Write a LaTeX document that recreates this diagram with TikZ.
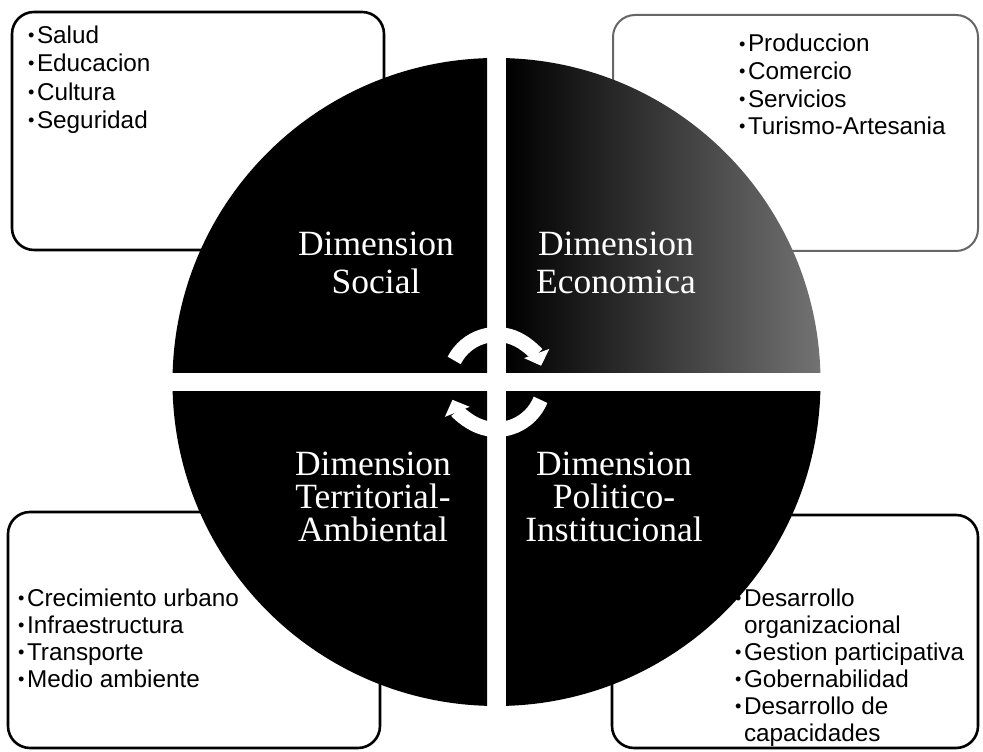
\documentclass[tikz,border=0pt]{standalone}
\usepackage{fontspec}
\setmainfont{Liberation Serif}
\newfontfamily\boxfont{Liberation Sans}
\usetikzlibrary{arrows.meta}

\newcommand\bul{\raisebox{.08em}{\scalebox{.75}{\textbullet}}\hspace{.1em}}
\newcommand\nobul{\phantom{\bul}}

\tikzset{
  frame/.style={draw, line width=2.6pt, rounded corners=22pt},
  item/.style={anchor=base west, inner sep=0pt, font=\boxfont\fontsize{24.3}{27}\selectfont},
  dimlabel/.style={align=center, inner sep=0pt, text=white, font=\fontsize{35.5}{38}\selectfont},
  dimlabel3/.style={dimlabel, font=\fontsize{35.5}{33}\selectfont},
  cyclearrow/.style={white, line width=15pt, -{Triangle[length=13pt, width=26pt]}}
}

\begin{document}
\begin{tikzpicture}[x=1pt, y=1pt]
    \path[use as bounding box, fill=white] (0,0) rectangle (983,752);

    % boxes behind the circle
    \draw[frame] (12,502) rectangle (384,740);
    \draw[frame, line width=2pt, black!60] (613,501) rectangle (978,737);
    \draw[frame] (8,4) rectangle (380,240);
    \draw[frame] (612,4) rectangle (978,237);

    \foreach \t [count=\i from 0] in {Salud, Educacion, Cultura, Seguridad} {
        \node[item] (soc\i) at (28, 708.5-28.3*\i) {\bul\t};
    }
    \foreach \t [count=\i from 0] in {Produccion, Comercio, Servicios, Turismo-Artesania} {
        \node[item] (eco\i) at (739, 700-27.6*\i) {\bul\t};
    }
    \foreach \t [count=\i from 0] in {Crecimiento urbano, Infraestructura, Transporte, Medio ambiente} {
        \node[item] (ter\i) at (18, 145.5-27*\i) {\bul\t};
    }
    \foreach \b/\t [count=\i from 0] in {\bul/Desarrollo, \nobul/organizacional, \bul/Gestion participativa,
                                          \bul/Gobernabilidad, \bul/Desarrollo de, \nobul/capacidades} {
        \node[item] (pol\i) at (735, 145.5-27*\i) {\b\t};
    }

    % the four quarters
    \coordinate (hub) at (496.5,370);
    \foreach \sx/\sy in {-1/1, -1/-1, 1/-1} {
        \begin{scope}
            \clip (496.5+\sx*9.5, 370+\sy*9.5) rectangle (496.5+\sx*400, 370+\sy*400);
            \fill (hub) circle (324);
        \end{scope}
    }
    \begin{scope}
        \clip (hub) circle (324);
        \shade[left color=black, middle color=black!92, right color=black!55] (506,379.5) rectangle (821,694);
    \end{scope}

    \node[dimlabel] (social) at (376,489) {Dimension\\Social};
    \node[dimlabel] (economica) at (616,489) {Dimension\\Economica};
    \node[dimlabel3] (territorial) at (373,255) {Dimension\\Territorial-\\Ambiental};
    \node[dimlabel3] (politico) at (614,255) {Dimension\\Politico-\\Institucional};

    % cycle in the middle
    \draw[cyclearrow] ([shift={(153:47.5)}]hub) arc[start angle=153, end angle=20, radius=47.5];
    \draw[cyclearrow] ([shift={(-22:47.5)}]hub) arc[start angle=-22, end angle=-158, radius=47.5];
\end{tikzpicture}
\end{document}
